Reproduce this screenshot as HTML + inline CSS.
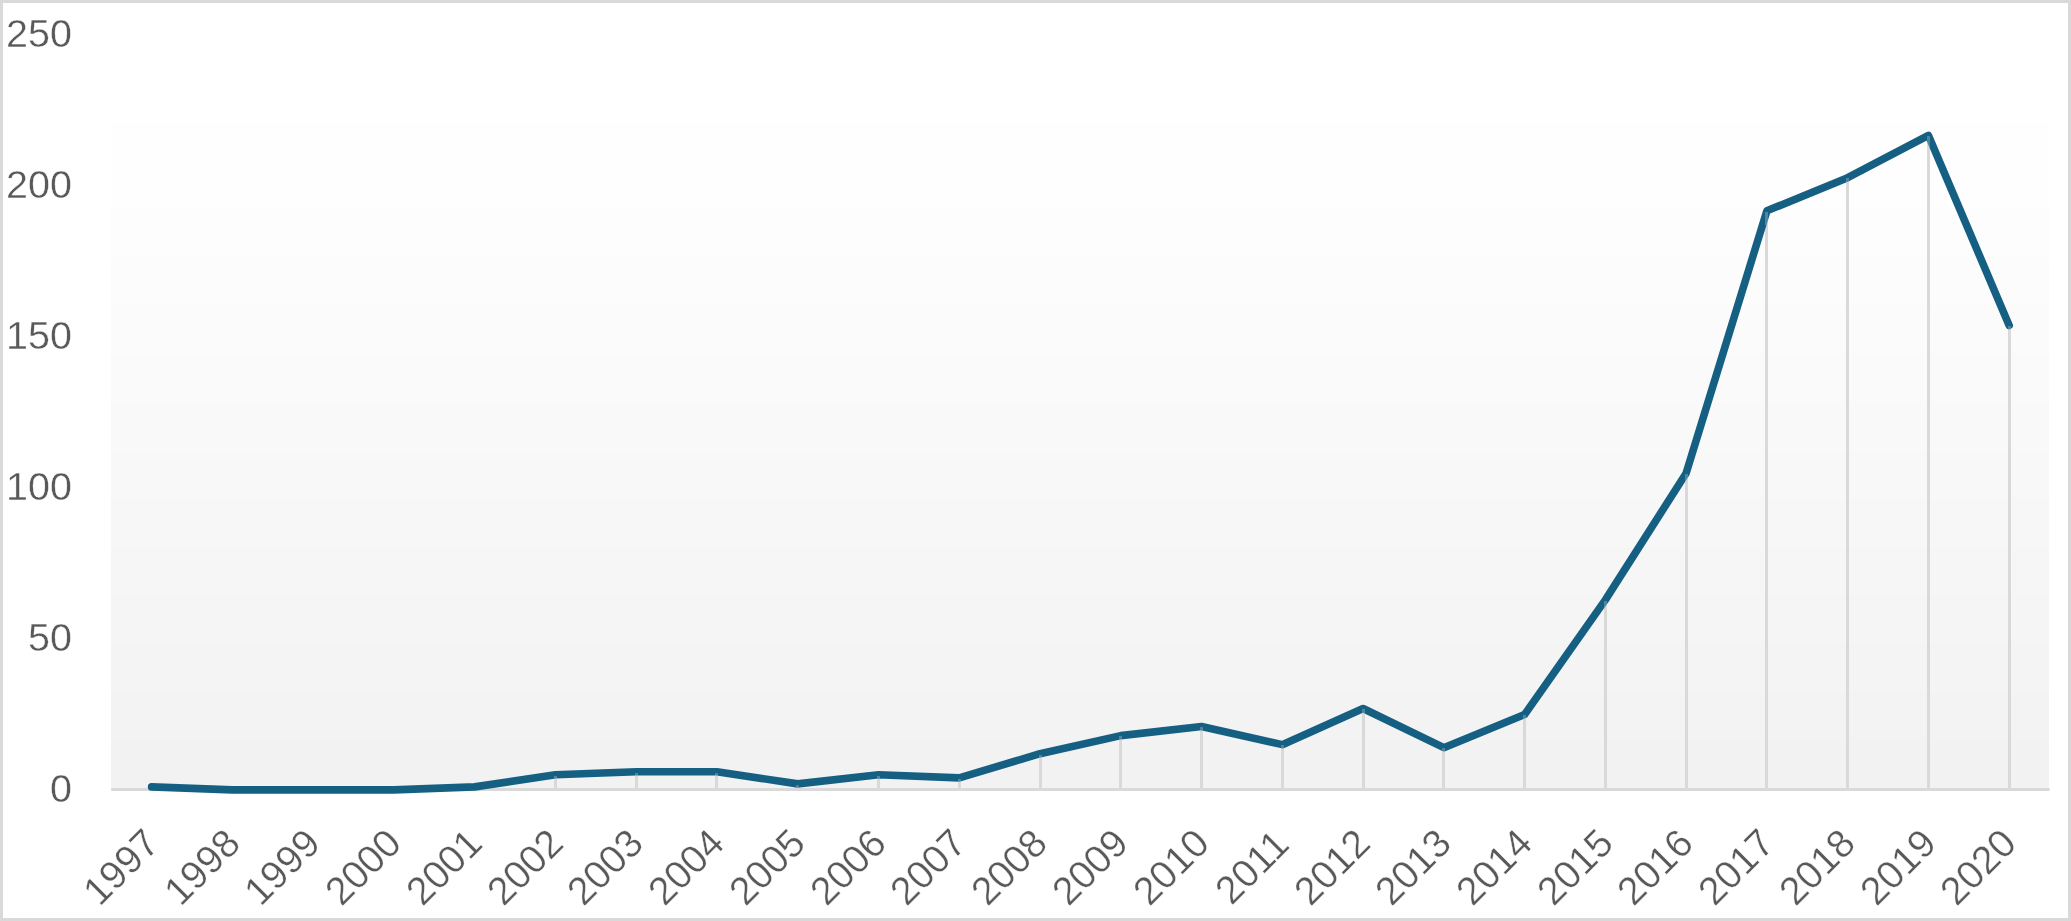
<!DOCTYPE html>
<html><head><meta charset="utf-8"><style>
html,body{margin:0;padding:0;background:#fff;}
body{width:2071px;height:921px;overflow:hidden;position:relative;font-family:"Liberation Sans",sans-serif;}
.lbl{position:absolute;left:0;top:0;width:2071px;height:921px;will-change:transform;-webkit-text-stroke:0.35px #fff;}
.frame{position:absolute;left:0;top:0;width:2065px;height:915px;border:3px solid #d9d9d9;}
svg{position:absolute;left:0;top:0;}
.yl{position:absolute;right:1999.1px;height:0;line-height:0;font-size:39.5px;color:#595959;white-space:nowrap;}
.yl span{position:absolute;right:0;top:0;line-height:1;transform:translateY(-50%);}
.xl{position:absolute;width:0;height:0;font-size:39.3px;color:#595959;white-space:nowrap;}
.xl span{position:absolute;left:0;top:0;line-height:1;transform:translate(-50%,-50%) rotate(-45deg);}
</style></head><body>
<div class="frame"></div>
<svg width="2071" height="921" viewBox="0 0 2071 921">
<defs><linearGradient id="g" x1="0" y1="35.90" x2="0" y2="789.40" gradientUnits="userSpaceOnUse">
<stop offset="0" stop-color="#ffffff"/><stop offset="0.0851" stop-color="#ffffff"/><stop offset="1" stop-color="#f1f1f1"/></linearGradient></defs>
<rect x="111.20" y="35.90" width="1937.80" height="86.10" fill="rgb(255,255,255)" shape-rendering="crispEdges"/>
<rect x="111.20" y="122.00" width="1937.80" height="86.00" fill="rgb(254,254,254)" shape-rendering="crispEdges"/>
<rect x="111.20" y="208.00" width="1937.80" height="48.50" fill="rgb(253,253,253)" shape-rendering="crispEdges"/>
<rect x="111.20" y="256.50" width="1937.80" height="48.50" fill="rgb(252,252,252)" shape-rendering="crispEdges"/>
<rect x="111.20" y="305.00" width="1937.80" height="48.50" fill="rgb(251,251,251)" shape-rendering="crispEdges"/>
<rect x="111.20" y="353.50" width="1937.80" height="48.50" fill="rgb(250,250,250)" shape-rendering="crispEdges"/>
<rect x="111.20" y="402.00" width="1937.80" height="48.50" fill="rgb(249,249,249)" shape-rendering="crispEdges"/>
<rect x="111.20" y="450.50" width="1937.80" height="48.50" fill="rgb(248,248,248)" shape-rendering="crispEdges"/>
<rect x="111.20" y="499.00" width="1937.80" height="48.50" fill="rgb(247,247,247)" shape-rendering="crispEdges"/>
<rect x="111.20" y="547.50" width="1937.80" height="48.50" fill="rgb(246,246,246)" shape-rendering="crispEdges"/>
<rect x="111.20" y="596.00" width="1937.80" height="48.50" fill="rgb(245,245,245)" shape-rendering="crispEdges"/>
<rect x="111.20" y="644.50" width="1937.80" height="48.50" fill="rgb(244,244,244)" shape-rendering="crispEdges"/>
<rect x="111.20" y="693.00" width="1937.80" height="48.50" fill="rgb(243,243,243)" shape-rendering="crispEdges"/>
<rect x="111.20" y="741.50" width="1937.80" height="47.90" fill="rgb(242,242,242)" shape-rendering="crispEdges"/>
<rect x="111.20" y="788" width="1938.40" height="3" fill="#d9d9d9"/>
<g fill="#d9d9d9" shape-rendering="crispEdges">
<rect x="150" y="786.88" width="3" height="1.12"/>
<rect x="473" y="786.88" width="3" height="1.12"/>
<rect x="554" y="774.82" width="3" height="13.18"/>
<rect x="635" y="771.80" width="3" height="16.20"/>
<rect x="715" y="771.80" width="3" height="16.20"/>
<rect x="796" y="783.87" width="3" height="4.13"/>
<rect x="877" y="774.82" width="3" height="13.18"/>
<rect x="958" y="777.84" width="3" height="10.16"/>
<rect x="1039" y="753.71" width="3" height="34.29"/>
<rect x="1119" y="735.61" width="3" height="52.39"/>
<rect x="1200" y="726.56" width="3" height="61.44"/>
<rect x="1281" y="744.66" width="3" height="43.34"/>
<rect x="1362" y="708.47" width="3" height="79.53"/>
<rect x="1442" y="747.68" width="3" height="40.32"/>
<rect x="1523" y="714.50" width="3" height="73.50"/>
<rect x="1604" y="599.89" width="3" height="188.11"/>
<rect x="1685" y="473.22" width="3" height="314.78"/>
<rect x="1765" y="210.83" width="3" height="577.17"/>
<rect x="1846" y="177.65" width="3" height="610.35"/>
<rect x="1927" y="135.43" width="3" height="652.57"/>
<rect x="2008" y="325.44" width="3" height="462.56"/>
</g>
<polyline points="151.60,786.88 232.37,789.90 313.13,789.90 393.89,789.90 474.66,786.88 555.42,774.82 636.19,771.80 716.96,771.80 797.72,783.87 878.49,774.82 959.25,777.84 1040.01,753.71 1120.78,735.61 1201.54,726.56 1282.31,744.66 1363.07,708.47 1443.84,747.68 1524.61,714.50 1605.37,599.89 1686.13,473.22 1766.90,210.83 1847.66,177.65 1928.43,135.43 2009.19,325.44" fill="none" stroke="#156082" stroke-width="7.6" stroke-linejoin="round" stroke-linecap="round"/>
<g fill="#d9d9d9" opacity="0.3" shape-rendering="crispEdges">
<rect x="150" y="787.68" width="3" height="0.32"/>
<rect x="473" y="787.68" width="3" height="0.32"/>
<rect x="554" y="775.62" width="3" height="12.38"/>
<rect x="635" y="772.60" width="3" height="13.20"/>
<rect x="715" y="772.60" width="3" height="13.20"/>
<rect x="796" y="784.67" width="3" height="3.33"/>
<rect x="877" y="775.62" width="3" height="12.38"/>
<rect x="958" y="778.64" width="3" height="9.36"/>
<rect x="1039" y="754.51" width="3" height="13.20"/>
<rect x="1119" y="736.41" width="3" height="13.20"/>
<rect x="1200" y="727.36" width="3" height="13.20"/>
<rect x="1281" y="745.46" width="3" height="13.20"/>
<rect x="1362" y="709.27" width="3" height="13.20"/>
<rect x="1442" y="748.48" width="3" height="13.20"/>
<rect x="1523" y="715.30" width="3" height="13.20"/>
<rect x="1604" y="600.69" width="3" height="13.20"/>
<rect x="1685" y="474.02" width="3" height="13.20"/>
<rect x="1765" y="211.63" width="3" height="13.20"/>
<rect x="1846" y="178.45" width="3" height="13.20"/>
<rect x="1927" y="136.23" width="3" height="13.20"/>
<rect x="2008" y="326.24" width="3" height="13.20"/>
</g>
</svg>
<div class="lbl">
<div class="yl" style="top:788.90px"><span>0</span></div>
<div class="yl" style="top:637.90px"><span>50</span></div>
<div class="yl" style="top:486.90px"><span>100</span></div>
<div class="yl" style="top:335.90px"><span>150</span></div>
<div class="yl" style="top:184.90px"><span>200</span></div>
<div class="yl" style="top:33.90px"><span>250</span></div>
<div class="xl" style="left:120.80px;top:866.50px"><span>1997</span></div>
<div class="xl" style="left:201.56px;top:866.50px"><span>1998</span></div>
<div class="xl" style="left:282.33px;top:866.50px"><span>1999</span></div>
<div class="xl" style="left:363.09px;top:866.50px"><span>2000</span></div>
<div class="xl" style="left:443.86px;top:866.50px"><span>2001</span></div>
<div class="xl" style="left:524.62px;top:866.50px"><span>2002</span></div>
<div class="xl" style="left:605.39px;top:866.50px"><span>2003</span></div>
<div class="xl" style="left:686.16px;top:866.50px"><span>2004</span></div>
<div class="xl" style="left:766.92px;top:866.50px"><span>2005</span></div>
<div class="xl" style="left:847.69px;top:866.50px"><span>2006</span></div>
<div class="xl" style="left:928.45px;top:866.50px"><span>2007</span></div>
<div class="xl" style="left:1009.21px;top:866.50px"><span>2008</span></div>
<div class="xl" style="left:1089.98px;top:866.50px"><span>2009</span></div>
<div class="xl" style="left:1170.74px;top:866.50px"><span>2010</span></div>
<div class="xl" style="left:1251.51px;top:866.50px"><span>2011</span></div>
<div class="xl" style="left:1332.27px;top:866.50px"><span>2012</span></div>
<div class="xl" style="left:1413.04px;top:866.50px"><span>2013</span></div>
<div class="xl" style="left:1493.81px;top:866.50px"><span>2014</span></div>
<div class="xl" style="left:1574.57px;top:866.50px"><span>2015</span></div>
<div class="xl" style="left:1655.34px;top:866.50px"><span>2016</span></div>
<div class="xl" style="left:1736.10px;top:866.50px"><span>2017</span></div>
<div class="xl" style="left:1816.87px;top:866.50px"><span>2018</span></div>
<div class="xl" style="left:1897.63px;top:866.50px"><span>2019</span></div>
<div class="xl" style="left:1978.39px;top:866.50px"><span>2020</span></div>
</div>
</body></html>
